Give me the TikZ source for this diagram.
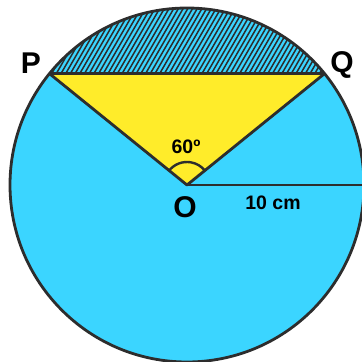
\documentclass[tikz,border=0pt]{standalone}
\usepackage{fontspec}
\setmainfont{Liberation Sans}
\usetikzlibrary{calc}

\definecolor{diskblue}{RGB}{59,213,255}
\definecolor{triyellow}{RGB}{255,236,42}
\definecolor{edgegray}{RGB}{45,45,45}

\begin{document}
\begin{tikzpicture}[
    x=1pt, y=1pt,
    every node/.style={font=\bfseries, text=black},
    edge/.style={draw=edgegray, line width=2.8pt, line join=round},
    hatch/.style={edgegray, line width=1.5pt},
    ptlabel/.style={font=\fontsize{30}{30}\selectfont\bfseries},
    smalllabel/.style={font=\fontsize{19.5}{19.5}\selectfont\bfseries}
]
    \useasboundingbox (0,0) rectangle (362,362);

    % Centre and chord ends
    \coordinate (O) at (187,177);
    \coordinate (P) at ($(O)+(141:177)$);
    \coordinate (Q) at ($(O)+(39:177)$);
    \coordinate (R) at ($(O)+(0:177)$);

    % Disc
    \fill[diskblue] (O) circle (177);

    % Triangle OPQ
    \fill[triyellow] (O) -- (P) -- (Q) -- cycle;

    % Hatched segment
    \begin{scope}
        \clip (P) -- (Q) arc[start angle=39, end angle=141, radius=177] -- cycle;
        \foreach \i in {0,...,90} {
            \draw[hatch] (-40+4.7*\i,260) -- ++(60:140);
        }
    \end{scope}

    % Outlines
    \draw[edge] (O) circle (177);
    \draw[edge] (P) -- (Q);
    \draw[edge] (P) -- (O) -- (Q);
    \draw[edge] (O) -- (R);
    \draw[edge, line width=2.4pt] ($(O)+(141:23)$) arc[start angle=141, end angle=39, radius=23];

    % Labels
    \node[ptlabel] (lp) at (31,299) {P};
    \node[ptlabel] (lq) at (342,297) {Q};
    \node[ptlabel] (lo) at (185,155) {O};
    \node[smalllabel] (ang) at (186,215) {60º};
    \node[smalllabel] (rad) at (273,159) {10 cm};
\end{tikzpicture}
\end{document}
